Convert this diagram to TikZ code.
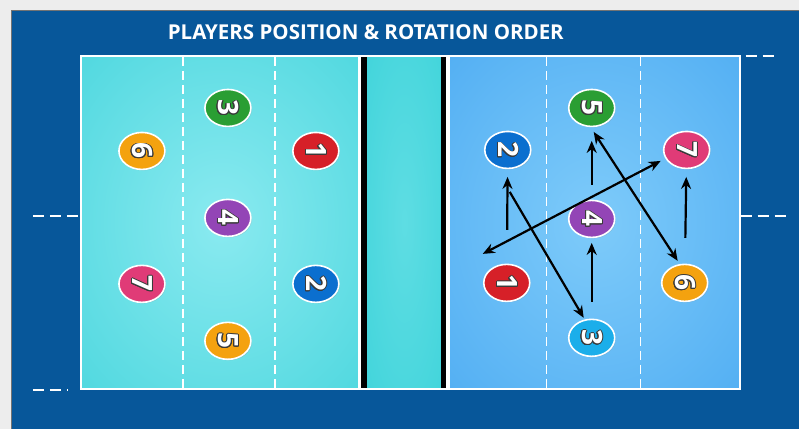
\documentclass[tikz,border=0pt]{standalone}
\usepackage{fontspec}
\setmainfont{Open Sans}
\usepackage{contour}
\contourlength{0.9pt}
\usetikzlibrary{arrows.meta,shapes.geometric,shadows}
\definecolor{panel}{HTML}{07579A}
\definecolor{leftin}{HTML}{8AEAF0}
\definecolor{leftout}{HTML}{2ACCD4}
\definecolor{netin}{HTML}{5EDDE3}
\definecolor{netout}{HTML}{30CFD6}
\definecolor{rightin}{HTML}{7ECBFA}
\definecolor{rightout}{HTML}{379DEE}
\definecolor{pgreen}{HTML}{2A9E33}
\definecolor{porange}{HTML}{F4A20F}
\definecolor{pred}{HTML}{D62028}
\definecolor{ppurple}{HTML}{9345B6}
\definecolor{ppink}{HTML}{E03B77}
\definecolor{pblue}{HTML}{0B6FCF}
\definecolor{psky}{HTML}{1BAEEA}
\definecolor{numline}{HTML}{3A3A3A}
\pgfdeclareradialshading{leftglow}{\pgfpoint{0bp}{0bp}}{color(0bp)=(leftin); color(60bp)=(leftout); color(75bp)=(leftout)}
\pgfdeclareradialshading{netglow}{\pgfpoint{0bp}{0bp}}{color(0bp)=(netin); color(60bp)=(netout); color(75bp)=(netout)}
\pgfdeclareradialshading{rightglow}{\pgfpoint{0bp}{0bp}}{color(0bp)=(rightin); color(60bp)=(rightout); color(75bp)=(rightout)}
\newcommand\pnum[1]{\contour{numline}{#1}}
\begin{document}
\begin{tikzpicture}[x=1pt,y=-1pt,
    player/.style={ellipse,fill=#1,draw=white,line width=1.6pt,minimum width=37pt,minimum height=46pt,
      inner sep=0pt,rotate=-90,text=white,font=\fontsize{28}{28}\selectfont\bfseries,
      drop shadow={opacity=0.25,shadow xshift=1pt,shadow yshift=-1pt}},
    zone/.style={white,line width=1.4pt,dash pattern=on 9pt off 5pt},
    sideline/.style={white,line width=2.5pt,dash pattern=on 11pt off 6pt},
    rot/.style={-{Stealth[length=12pt,width=10pt]},line width=2.2pt},
    swap/.style={{Stealth[length=12pt,width=10pt]}-{Stealth[length=12pt,width=10pt]},line width=2.2pt}]
    % backdrop
    \fill[black!7] (0,0) rectangle (799,429);
    \fill[panel] (11,10) rectangle (799,429);
    \draw[black!55,line width=0.8pt] (11,429) -- (11,10) -- (799,10);
    % court
    \shade[shading=leftglow] (81,56) rectangle (361,389);
    \shade[shading=netglow] (367,56) rectangle (442,389);
    \shade[shading=rightglow] (450,56) rectangle (740,389);
    \fill[white] (358.5,56) rectangle (361,389);
    \fill[black] (361,56) rectangle (367,389);
    \fill[black] (441.5,56) rectangle (446.5,389);
    \fill[white] (446.5,56) rectangle (450,389);
    \draw[white,line width=2pt] (81,56) rectangle (740,389);
    \foreach \x in {183,275,547,641}
        \draw[zone] (\x,57) -- (\x,388);
    \draw[sideline] (33,216) -- (80,216);
    \draw[sideline] (33,390) -- (68,390);
    \draw[sideline] (746,56) -- (779,56);
    \draw[sideline] (741,216) -- (789,216);
    \node[white,font=\fontsize{20.5}{20.5}\selectfont\bfseries] (title) at (366,32) {PLAYERS POSITION \& ROTATION ORDER};
    % left team
    \node[player=pgreen] (l3) at (228,108) {\pnum{3}};
    \node[player=porange] (l6) at (142,151) {\pnum{6}};
    \node[player=pred] (l1) at (316,151) {\pnum{1}};
    \node[player=ppurple] (l4) at (228,218) {\pnum{4}};
    \node[player=ppink] (l7) at (142,284) {\pnum{7}};
    \node[player=pblue] (l2) at (316,284) {\pnum{2}};
    \node[player=porange] (l5) at (228,341) {\pnum{5}};
    % right team
    \node[player=pgreen] (r5) at (592,108) {\pnum{5}};
    \node[player=pblue] (r2) at (508,150) {\pnum{2}};
    \node[player=ppink] (r7) at (687,150) {\pnum{7}};
    \node[player=ppurple] (r4) at (592,219) {\pnum{4}};
    \node[player=pred] (r1) at (507,283) {\pnum{1}};
    \node[player=porange] (r6) at (685,283) {\pnum{6}};
    \node[player=psky] (r3) at (592,338) {\pnum{3}};
    % rotation
    \coordinate (r2out) at ([shift={(2,42)}]r2.center);
    \coordinate (r3in) at ([shift={(-8,-20)}]r3.center);
    \coordinate (r5out) at ([shift={(2,24)}]r5.center);
    \coordinate (r6in) at ([shift={(-7,-22)}]r6.center);
    \coordinate (r7out) at ([shift={(-26,11)}]r7.center);
    \coordinate (r1in) at ([shift={(-24,-29)}]r1.center);
    \draw[rot,shorten <=53pt,shorten >=27pt] (r1.center) -- (r2.center);
    \draw[rot] (r2out) -- (r3in);
    \draw[rot,shorten <=36pt,shorten >=24pt] (r3.center) -- (r4.center);
    \draw[rot,shorten <=34pt,shorten >=33pt] (r4.center) -- (r5.center);
    \draw[swap] (r5out) -- (r6in);
    \draw[rot,shorten <=45pt,shorten >=27pt] (r6.center) -- (r7.center);
    \draw[swap] (r7out) -- (r1in);
\end{tikzpicture}
\end{document}
